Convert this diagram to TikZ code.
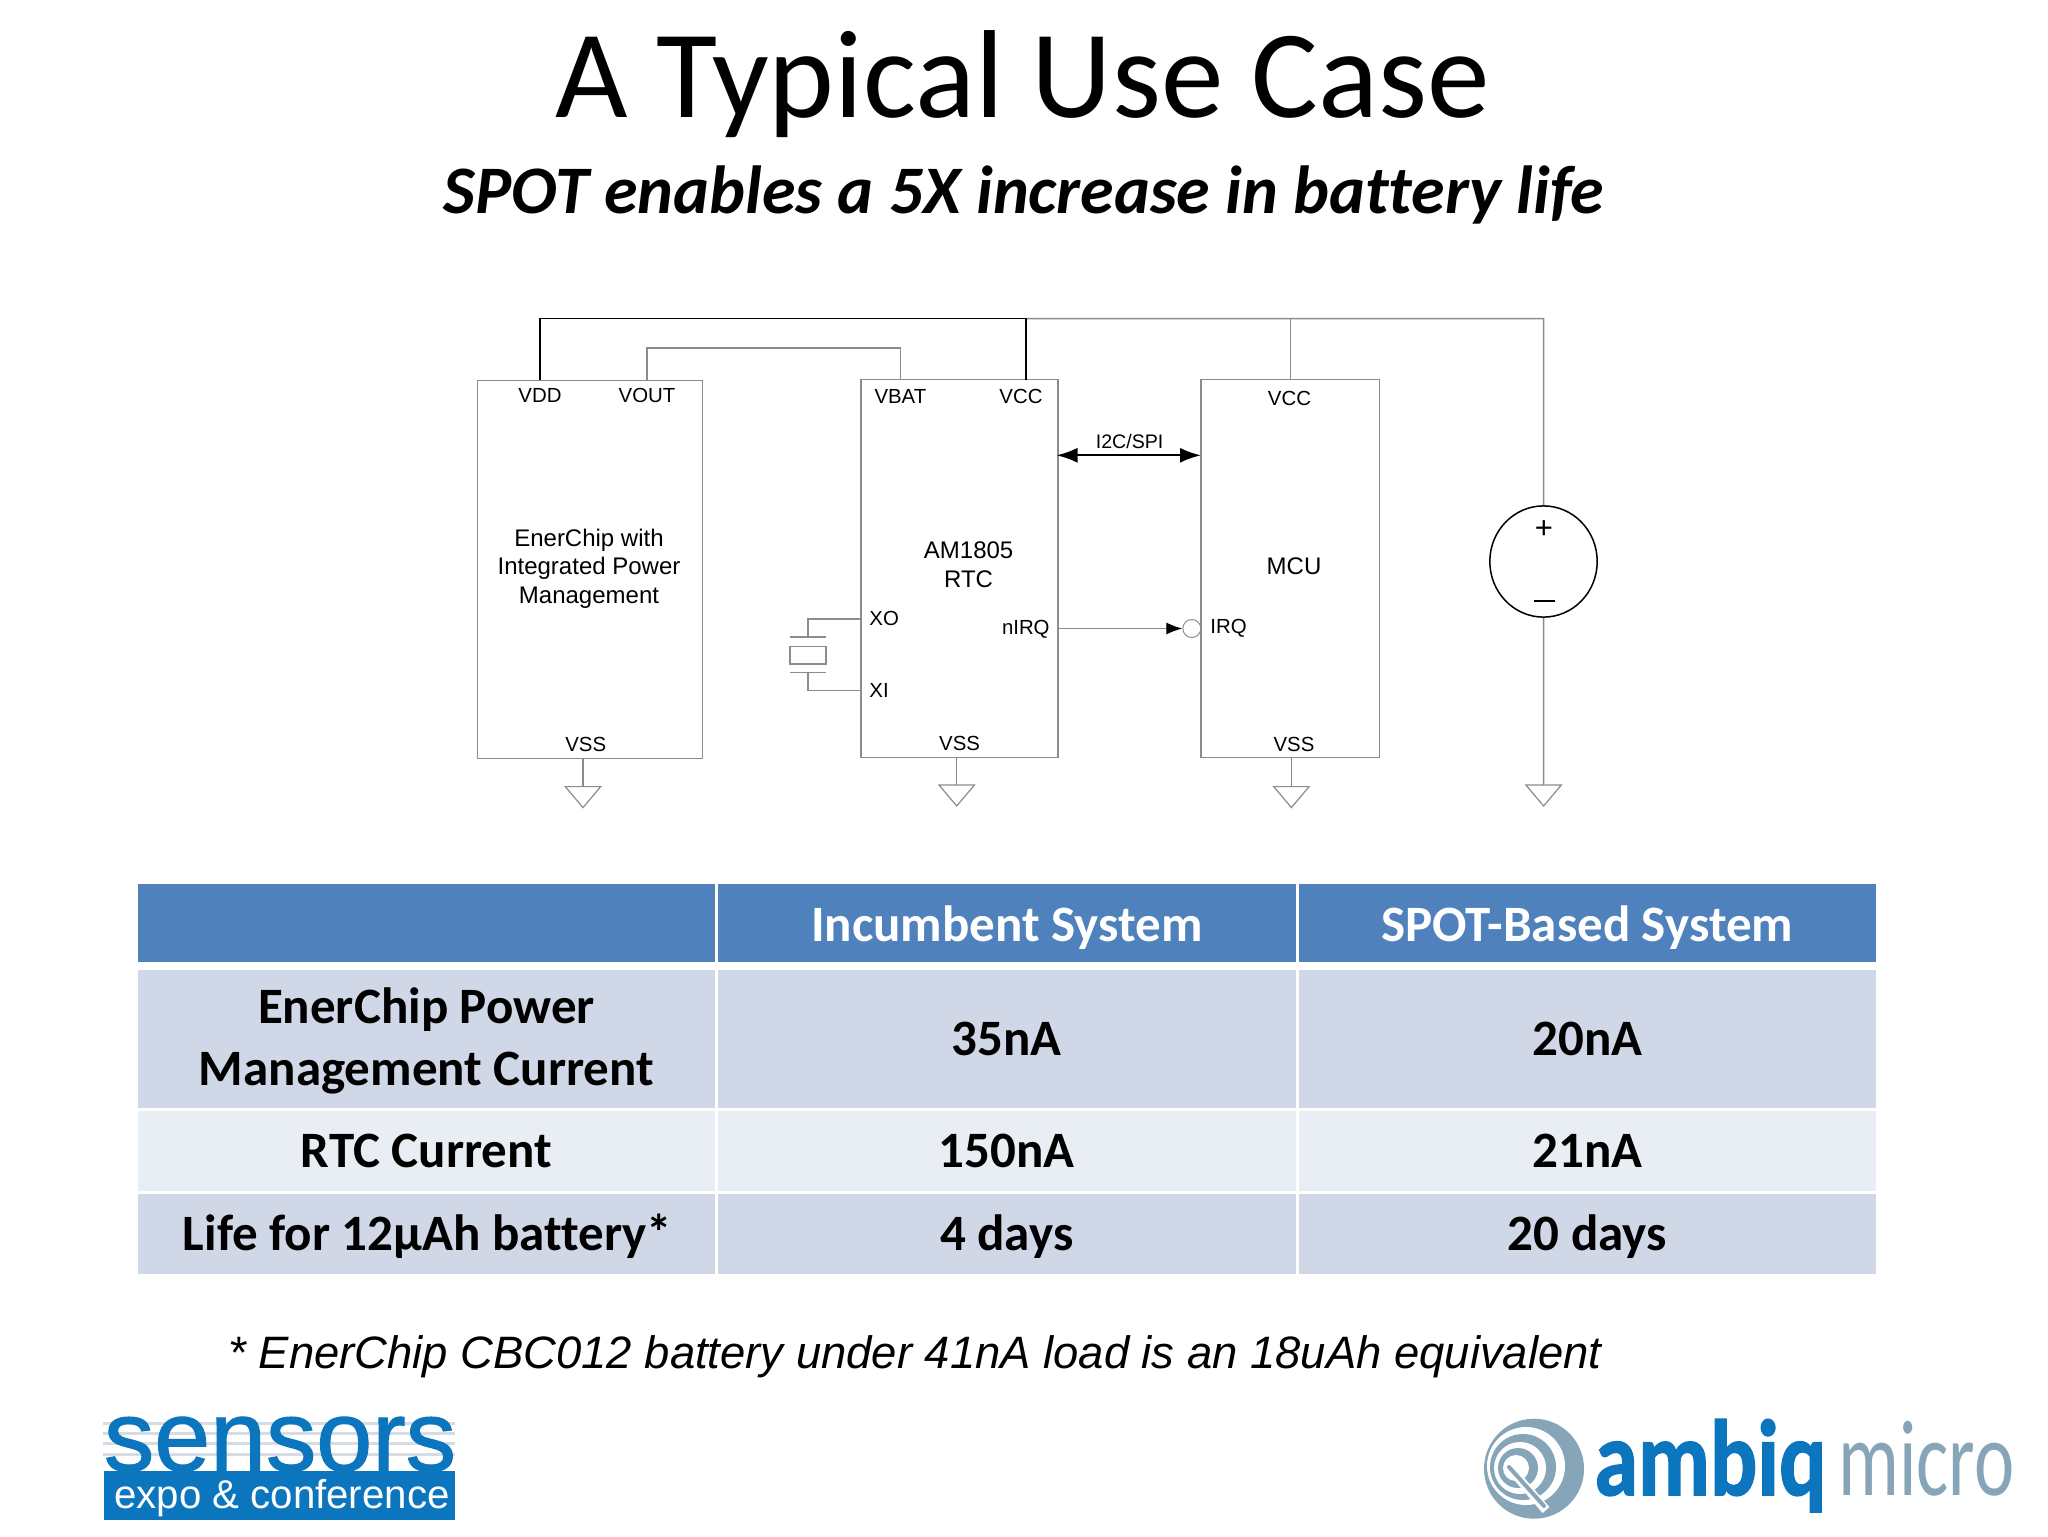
\documentclass[tikz,border=0pt]{standalone}
\usepackage{fontspec}
\setmainfont{Carlito}[Ligatures={NoCommon}]
\newfontfamily\arialf{Liberation Sans}
\newfontfamily\arialheavy[FakeBold=1.2]{Liberation Sans}
\newfontfamily\carlitoheavy[FakeBold=1.5]{Carlito Bold}
\usetikzlibrary{arrows.meta,calc,shapes.geometric}
\definecolor{wiregray}{HTML}{8C8C8C}
\definecolor{hdrblue}{HTML}{4F81BD}
\definecolor{rowdark}{HTML}{D0D8E8}
\definecolor{rowlight}{HTML}{E9EDF4}
\definecolor{logoblue}{HTML}{0B75BE}
\definecolor{logogray}{HTML}{87A5B8}
\definecolor{stripe}{HTML}{D5DCE4}
\tikzset{
  x=0.5pt,y=-0.5pt,
  chip/.style={draw=wiregray,line width=.75pt,inner sep=0pt,fill=white},
  wire/.style={draw=wiregray,line width=.75pt},
  rail/.style={draw=black,line width=.8pt},
  lab/.style={inner sep=0pt,font=\arialf\fontsize{10.2}{11}\selectfont},
  main/.style={inner sep=0pt,align=center,font=\arialf\fontsize{12}{14.3}\selectfont},
  gnd/.style={draw=wiregray,line width=.6pt,fill=white},
  cell/.style={inner sep=0pt,align=center,text=black,font=\bfseries\fontsize{25.5}{31}\selectfont},
  hcell/.style={cell,fill=hdrblue,minimum height=38.75pt},
  htext/.style={cell,text=white},
}
\newcommand{\gndsym}[1]{\draw[gnd] (#1) -- ++(-17.7,0) -- ++(17.7,21) -- ++(17.7,-21) -- cycle;}
\begin{document}
\begin{tikzpicture}
\useasboundingbox (0,0) rectangle (2048,1536);
\fill[white] (0,0) rectangle (2048,1536);

\node[inner sep=0pt,font=\fontsize{62.6}{70}\selectfont] (title) at (1023,84) {A Typical Use Case};
\node[inner sep=0pt,font=\bfseries\itshape\fontsize{34}{38}\selectfont] (subtitle) at (1024,195) {SPOT enables a 5X increase in battery life};

% chips
\node[chip,minimum width=112.4pt,minimum height=189pt] (pmic) at (590,569.5) {};
\node[chip,minimum width=98.5pt,minimum height=189pt] (rtc) at (959.5,568.7) {};
\node[chip,minimum width=89.2pt,minimum height=189pt] (mcu) at (1290.2,568.5) {};
\node[draw=black,line width=.75pt,ellipse,minimum width=53.7pt,minimum height=55.6pt,inner sep=0pt] (src) at (1543.5,561.5) {};

% pins
\coordinate (railL) at (540,318.6);
\coordinate (railC) at (1025.7,318.6);
\coordinate (railM) at (1290.4,318.6);
\coordinate (railR) at (1543.6,318.6);
\coordinate (pVDD) at (540,380.2);
\coordinate (pVOUT) at (647,380.2);
\coordinate (vouta) at (647,347.9);
\coordinate (voutb) at (900.4,347.9);
\coordinate (pVBAT) at (900.4,379.5);
\coordinate (pVCC) at (1025.7,379.5);
\coordinate (pMVCC) at (1290.4,379);

\draw[wire] (pVOUT) -- (vouta) -- (voutb) -- (pVBAT);
\draw[wire] (railC) -- (railR) -- (src.north);
\draw[wire] (railM) -- (pMVCC);
\draw[rail] (pVDD) -- (railL) -- (railC) -- (pVCC);

% grounds
\coordinate (g1) at (583,786.6);
\coordinate (g2) at (956.7,785);
\coordinate (g3) at (1291.4,786.6);
\coordinate (g4) at (1543.6,785);
\draw[wire] (pmic.south -| g1) -- (g1);
\draw[wire] (rtc.south -| g2) -- (g2);
\draw[wire] (mcu.south -| g3) -- (g3);
\draw[wire] (src.south) -- (g4);
\gndsym{g1}\gndsym{g2}\gndsym{g3}\gndsym{g4}

% bus
\coordinate (busl) at (1056.5,455.3);
\coordinate (busr) at (1201,455.3);
\draw[black,line width=1.1pt,{Latex[length=10.5pt,width=7.5pt]}-{Latex[length=10.5pt,width=7.5pt]}] (busl) -- (busr);
\node[lab,font=\arialf\fontsize{9.8}{11}\selectfont] (i2c) at (1129.6,441.5) {I2C/SPI};

% irq
\node[draw=wiregray,line width=.5pt,circle,minimum size=9pt,inner sep=0pt] (bub) at (1191.8,628.5) {};
\coordinate (irqo) at (1058.5,628.5);
\draw[wire,line width=.6pt,-{Latex[length=8pt,width=6pt,black]}] (irqo) -- (bub.west);

% crystal
\coordinate (xo) at (861,619);
\coordinate (xi) at (861,690.5);
\coordinate (xa) at (808,619);
\coordinate (xb) at (808,637);
\coordinate (xc) at (808,672.6);
\coordinate (xd) at (808,690.5);
\draw[wire,line width=.6pt] (xo) -- (xa) -- (xb);
\draw[wire,line width=.6pt] (xi) -- (xd) -- (xc);
\draw[wire,line width=.6pt] (790,637) -- (826,637);
\draw[wire,line width=.6pt] (790,672.6) -- (826,672.6);
\draw[wire,line width=.6pt] (790,646.4) rectangle (826,664);

% labels
\node[lab] (lVDD) at (540,395.5) {VDD};
\node[lab] (lVOUT) at (647,395.5) {VOUT};
\node[lab] (lVBAT) at (900.4,396.5) {VBAT};
\node[lab] (lVCC) at (1021,396) {VCC};
\node[lab] (lMVCC) at (1289.5,398) {VCC};
\node[lab] (lVSS1) at (585.7,744.5) {VSS};
\node[lab] (lVSS2) at (959.6,743) {VSS};
\node[lab] (lVSS3) at (1294,744.5) {VSS};
\node[lab,anchor=west] (lXO) at (869,618.5) {XO};
\node[lab,anchor=west] (lXI) at (869,690) {XI};
\node[lab,anchor=east] (lnIRQ) at (1050,629.5) {nIRQ};
\node[lab,anchor=west] (lIRQ) at (1210,628.5) {IRQ};
\node[main] (tPM) at (589,568.5) {EnerChip with\\Integrated Power\\Management};
\node[main] (tRTC) at (968.6,565) {AM1805\\RTC};
\node[main] (tMCU) at (1294,566) {MCU};
\node[inner sep=0pt,font=\arialf\fontsize{15.5}{16}\selectfont] (plus) at (1544,530) {+};
\draw[black,line width=1pt] (1533.5,601) -- (1555,601);

% table
\node[hcell,minimum width=288.5pt] (h1) at (426.5,922.75) {};
\node[hcell,minimum width=289.25pt] (h2) at (1006.75,922.75) {};
\node[hcell,minimum width=288.75pt] (h3) at (1587.25,922.75) {};
\node[htext] (h2t) at (1006.75,927.5) {Incumbent System};
\node[htext] (h3t) at (1587.25,927.5) {SPOT-Based System};
\node[cell,fill=rowdark,minimum width=288.5pt,minimum height=69.25pt] (a1) at (426.5,1038.75) {};
\node[cell] (a1t) at (426.5,1040.5) {EnerChip Power\\Management Current};
\node[cell,fill=rowdark,minimum width=289.25pt,minimum height=69.25pt] (a2) at (1006.75,1038.75) {35nA};
\node[cell,fill=rowdark,minimum width=288.75pt,minimum height=69.25pt] (a3) at (1587.25,1038.75) {20nA};
\node[cell,fill=rowlight,minimum width=288.5pt,minimum height=40pt] (b1) at (426.5,1151) {RTC Current};
\node[cell,fill=rowlight,minimum width=289.25pt,minimum height=40pt] (b2) at (1006.75,1151) {150nA};
\node[cell,fill=rowlight,minimum width=288.75pt,minimum height=40pt] (b3) at (1587.25,1151) {21nA};
\node[cell,fill=rowdark,minimum width=288.5pt,minimum height=40pt] (c1) at (426.5,1234) {};
\node[cell,fill=rowdark,minimum width=289.25pt,minimum height=40pt] (c2) at (1006.75,1234) {};
\node[cell,fill=rowdark,minimum width=288.75pt,minimum height=40pt] (c3) at (1587.25,1234) {};
\node[cell] (c1t) at (427.5,1236.5) {Life for 12µAh battery*};
\node[cell] (c2t) at (1006.75,1236.5) {4 days};
\node[cell] (c3t) at (1587.25,1236.5) {20 days};

\node[inner sep=0pt,font=\arialf\itshape\fontsize{22.7}{26}\selectfont] (foot) at (915,1357) {* EnerChip CBC012 battery under 41nA load is an 18uAh equivalent};

% sensors logo
\foreach \yy in {1423,1433,1443,1454} \fill[stripe] (103,\yy-1.5) rectangle (455,\yy+1.5);
\fill[logoblue] (104,1470.7) rectangle (455,1520);
\node[anchor=base,inner sep=0pt,text=logoblue] (sens) at (280,1470.7) {\resizebox{176pt}{\height}{\arialheavy\fontsize{50}{50}\selectfont sensors}};
\node[anchor=base,inner sep=0pt,text=white] (expo) at (282,1508) {\arialf\fontsize{20.1}{22}\selectfont expo \& conference};

% ambiq logo
\fill[logogray] (1534,1468.7) circle[radius=50];
\fill[white] (1526,1466) circle[radius=39];
\fill[logogray] (1523,1467) circle[radius=33];
\fill[white] (1520,1468) circle[radius=26];
\fill[logogray] (1518,1468) circle[radius=20];
\fill[white] (1516,1468) circle[radius=13];
\draw[white,line width=4.5pt] (1509,1467) -- (1546,1510);
\draw[logogray,line width=2pt,line cap=round] (1509,1467) -- (1544,1506);
\node[anchor=base west,inner sep=0pt,text=logoblue] (ambiq) at (1594,1495) {\resizebox{116pt}{\height}{\carlitoheavy\fontsize{54}{54}\selectfont ambiq}};
\node[anchor=base west,inner sep=0pt,text=logogray] (micro) at (1838,1495) {\resizebox{88pt}{\height}{\fontsize{54}{54}\selectfont micro}};
\end{tikzpicture}
\end{document}
